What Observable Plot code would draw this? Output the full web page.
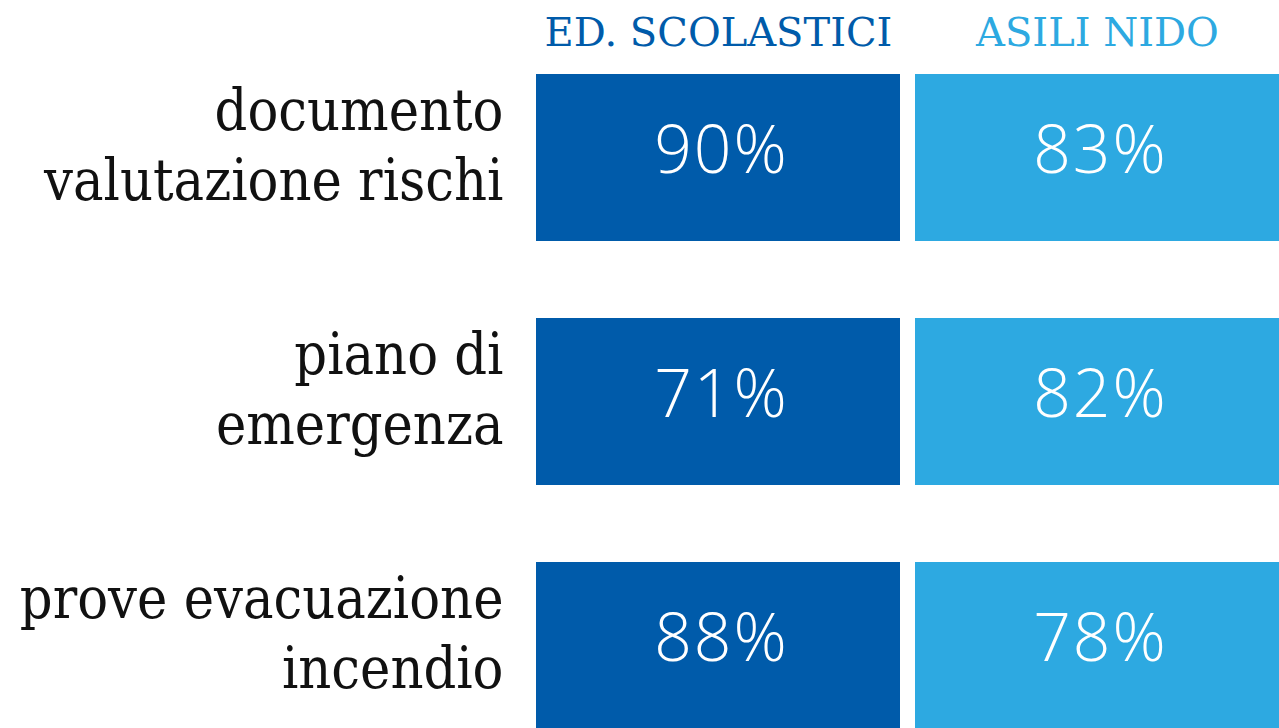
<!DOCTYPE html>
<html>
<head>
<meta charset="utf-8">
<script src="https://cdn.jsdelivr.net/npm/d3@7"></script>
<script src="https://cdn.jsdelivr.net/npm/@observablehq/plot@0.6"></script>
<style>
  html, body { margin: 0; padding: 0; background: #fff; overflow: hidden; }
  #chart svg { display: block; }
  .val text { letter-spacing: 2px; }
</style>
</head>
<body>
<div id="chart"></div>
<script>
const columns = ["ED. SCOLASTICI", "ASILI NIDO"];
const rows = ["documento\nvalutazione rischi", "piano di\nemergenza", "prove evacuazione\nincendio"];
const edScolastici = [90, 71, 88];
const asiliNido = [83, 82, 78];
const colors = ["#005BAA", "#2DA9E1"];

const table = [];
rows.forEach((r, i) => {
  table.push({col: columns[0], row: r, value: edScolastici[i]});
  table.push({col: columns[1], row: r, value: asiliNido[i]});
});

const serifCond = "'DejaVu Serif Condensed', 'DejaVu Serif', serif";
const serif = "'DejaVu Serif', serif";

const chart = Plot.plot({
  width: 1279,
  height: 728,
  marginLeft: 536,
  marginRight: 0,
  marginTop: 73,
  marginBottom: 0,
  style: {background: "#fff", overflow: "visible"},
  x: {type: "band", domain: columns, paddingInner: 0.04, paddingOuter: 0, axis: null},
  y: {type: "band", domain: rows, paddingInner: 0.314, paddingOuter: 0, range: [73, 731], axis: null},
  color: {type: "ordinal", domain: columns, range: colors},
  marks: [
    Plot.cell(table, {x: "col", y: "row", fill: "col"}),
    Plot.text(table, {
      x: "col", y: "row", text: d => d.value + "%", className: "val",
      fill: "white", fontSize: 66, fontWeight: 300,
      fontFamily: "'Open Sans', Lato, sans-serif", dy: -6, dx: 3
    }),
    Plot.text(columns, {
      x: d => d, frameAnchor: "top", dy: -40, lineAnchor: "middle",
      fill: d => d, fontSize: 40, fontFamily: serif
    }),
    Plot.text(rows, {
      y: d => d, frameAnchor: "left", dx: -33, textAnchor: "end",
      lineAnchor: "middle", lineHeight: 1.23, dy: -15,
      fill: "#111", fontSize: 57, fontFamily: serifCond
    })
  ]
});
document.getElementById("chart").appendChild(chart);
</script>
</body>
</html>
